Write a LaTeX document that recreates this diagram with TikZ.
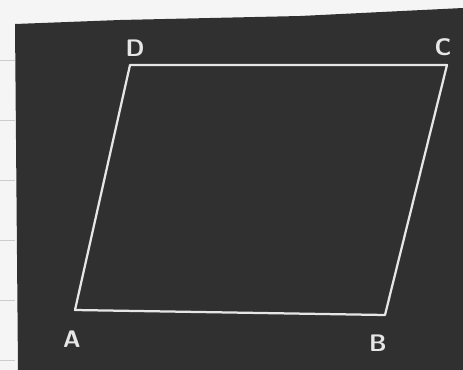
\documentclass[tikz,border=0pt]{standalone}
\usepackage{tikz}
\usetikzlibrary{positioning}
\definecolor{board}{HTML}{303030}
\definecolor{chalk}{HTML}{E6E6E6}
\tikzset{
  chalkline/.style = {draw=chalk, line width=1.6pt, line cap=round, line join=round},
  vlabel/.style    = {text=chalk, font=\sffamily\bfseries\fontsize{17}{17}\selectfont, inner sep=0pt},
}
\begin{document}
\begin{tikzpicture}[x=0.025cm, y=-0.025cm]
  \useasboundingbox (0,0) rectangle (463,370);
  % paper and board
  \fill[white!92!gray] (0,0) rectangle (463,370);
  \foreach \y in {60,120,180,240,300,360}
    \draw[gray!40, line width=0.3pt] (0,\y) -- (15,\y);
  \fill[board] (15,24) -- (120,20) -- (300,16) -- (463,8) -- (463,370) -- (18,370) -- cycle;
  % vertices
  \coordinate (A) at (75,310);
  \coordinate (B) at (385,315);
  \coordinate (C) at (447,65);
  \coordinate (D) at (130,65);
  \draw[chalkline] (A) -- (B) -- (C) -- (D) -- cycle;
  % labels
  \node[vlabel] (la) at (72,339) {A};
  \node[vlabel] (lb) at (378,343) {B};
  \node[vlabel] (lc) at (443,47) {C};
  \node[vlabel] (ld) at (135,48) {D};
\end{tikzpicture}
\end{document}
